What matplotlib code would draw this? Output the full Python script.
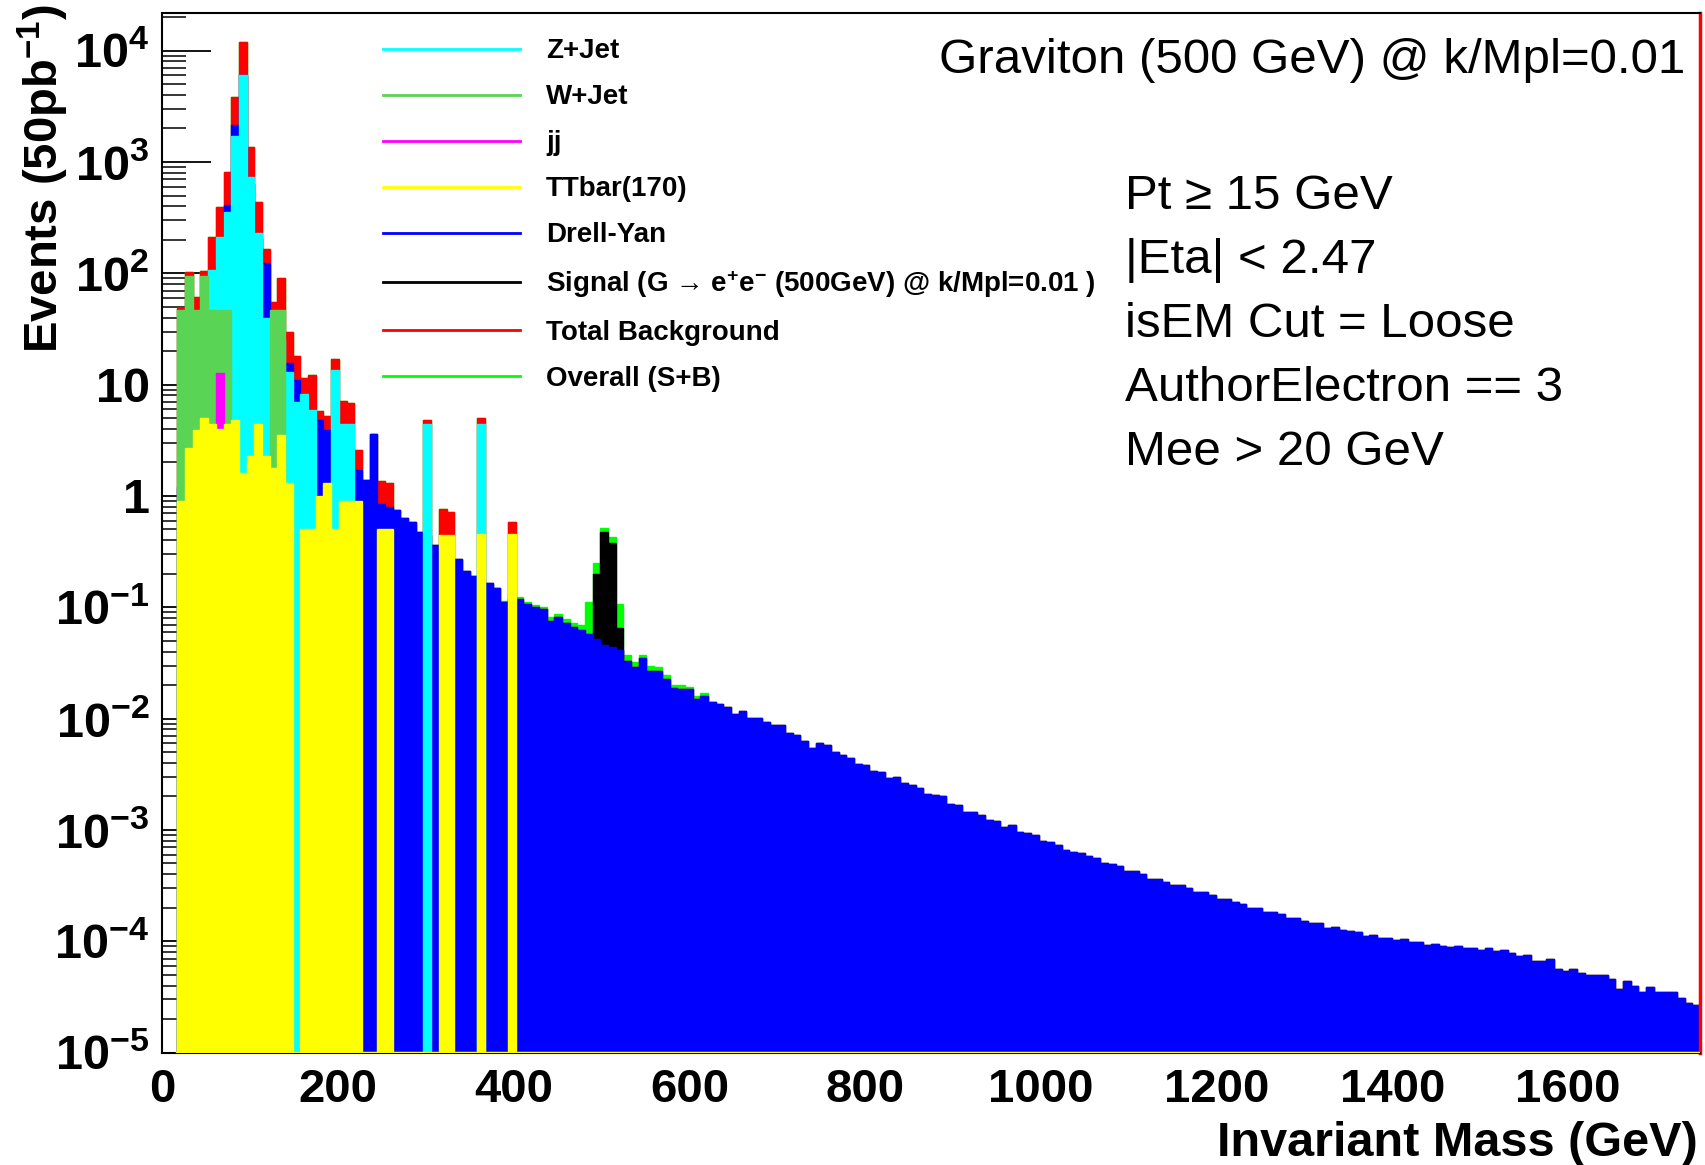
import numpy as np
import matplotlib
matplotlib.use("Agg")
import matplotlib.pyplot as plt
from matplotlib.ticker import FixedLocator, LogLocator, NullFormatter
from matplotlib.lines import Line2D

plt.rcParams['font.family'] = ['Liberation Sans', 'DejaVu Sans']
plt.rcParams['mathtext.fontset'] = 'custom'
plt.rcParams['mathtext.rm'] = 'Liberation Sans'
plt.rcParams['mathtext.bf'] = 'Liberation Sans:bold'
plt.rcParams['mathtext.it'] = 'Liberation Sans:italic'

# ---------------- data ----------------
mass_min, mass_max, n_bins = 0.0, 1750.0, 200      # 8.75 GeV bins
low_first_bin = 2                                    # 17.5 GeV

# low-mass backgrounds, bins 2..47 (17.5 - 420 GeV)
z_jet = [0, 0, 0, 0, 107, 213, 357, 1700, 6000, 740,
         228, 40, 5, 25, 13, 7, 8.3, 5.9, 0, 0,
         13.5, 4.4, 4.4, 0, 0, 0, 0, 0, 0, 0,
         0, 0, 4.4, 0, 0, 0, 0, 0, 0, 4.4,
         0, 0, 0, 0, 0, 0]
w_jet = [47, 94, 47, 94, 47, 47, 47, 0, 0, 0,
         0, 0, 47, 47, 0, 0, 0, 0, 0, 0,
         0, 0, 0, 0, 0, 0, 0, 0, 0, 0,
         0, 0, 0, 0, 0, 0, 0, 0, 0, 0,
         0, 0, 0, 0, 0, 0]
dijet = [0, 0, 0, 0, 0, 12.6, 0, 0, 0, 0,
         0, 0, 0, 0, 0, 0, 0, 0, 0, 0,
         0, 0, 0, 0, 0, 0, 0, 0, 0, 0,
         0, 0, 0, 0, 0, 0, 0, 0, 0, 0,
         0, 0, 0, 0, 0, 0]
ttbar = [0.9, 2.7, 3.9, 5.0, 4.4, 4.0, 4.4, 4.8, 1.6, 2.3,
         4.4, 2.3, 1.8, 3.5, 1.3, 0, 0.5, 0.5, 1.0, 1.3,
         0.5, 0.9, 0.9, 0.9, 0, 0, 0.5, 0.5, 0, 0,
         0, 0, 0, 0, 0.45, 0.45, 0, 0, 0, 0.46,
         0, 0, 0, 0.46, 0, 0]

# Drell-Yan, bins 2..199
drell_yan = [
    1.2, 6, 11, 6, 55, 120, 410, 2150, 6000, 630,
    207, 124, 2, 15, 15.5, 11, 2.7, 5.8, 4.8, 3.9,
    3.0, 1.8, 1.5, 1.7, 1.4, 3.6, 0.85, 0.80, 0.75, 0.64,
    0.58, 0.47, 0.45, 0.36, 0.32, 0.27, 0.27, 0.21, 0.19, 0.17,
    0.166, 0.15, 0.111, 0.12, 0.119, 0.107,
    # bins 48..87
    0.100, 0.097, 0.076, 0.081, 0.073, 0.066, 0.062, 0.057, 0.052, 0.046,
    0.044, 0.041, 0.033, 0.029, 0.035, 0.027, 0.027, 0.0227, 0.019, 0.0184,
    0.0184, 0.015, 0.0159, 0.014, 0.0135, 0.0126, 0.011, 0.0117, 0.0102, 0.0102,
    0.0093, 0.0087, 0.0087, 0.0075, 0.0071, 0.0063, 0.0055, 0.0061, 0.0058, 0.0050,
    # bins 88..139
    4.68e-3, 4.47e-3, 3.89e-3, 3.80e-3, 3.39e-3, 3.31e-3, 2.95e-3, 3.02e-3, 2.63e-3, 2.51e-3,
    2.40e-3, 2.09e-3, 2.04e-3, 2.00e-3, 1.70e-3, 1.66e-3, 1.45e-3, 1.45e-3, 1.35e-3, 1.23e-3,
    1.20e-3, 1.07e-3, 1.10e-3, 9.5e-4, 9.3e-4, 9.1e-4, 7.9e-4, 7.8e-4, 7.4e-4, 6.6e-4,
    6.3e-4, 6.2e-4, 5.8e-4, 5.6e-4, 5.0e-4, 4.9e-4, 4.7e-4, 4.3e-4, 4.3e-4, 4.0e-4,
    3.6e-4, 3.6e-4, 3.4e-4, 3.2e-4, 3.2e-4, 3.0e-4, 2.75e-4, 2.75e-4, 2.63e-4, 2.40e-4,
    2.40e-4, 2.24e-4,
    # bins 140..173
    2.14e-4, 2.00e-4, 2.00e-4, 1.82e-4, 1.82e-4, 1.74e-4, 1.62e-4, 1.62e-4, 1.51e-4, 1.45e-4,
    1.45e-4, 1.32e-4, 1.35e-4, 1.26e-4, 1.23e-4, 1.20e-4, 1.12e-4, 1.15e-4, 1.07e-4, 1.07e-4,
    1.02e-4, 1.05e-4, 9.8e-5, 9.8e-5, 9.3e-5, 9.5e-5, 9.1e-5, 8.9e-5, 9.1e-5, 8.7e-5,
    8.7e-5, 8.3e-5, 8.7e-5, 8.1e-5,
    # bins 174..199
    8.3e-5, 7.9e-5, 7.4e-5, 7.6e-5, 6.6e-5, 6.6e-5, 6.9e-5, 5.6e-5, 5.4e-5, 5.6e-5,
    5.2e-5, 5.0e-5, 5.0e-5, 5.0e-5, 4.6e-5, 3.7e-5, 4.4e-5, 4.0e-5, 3.5e-5, 3.9e-5,
    3.5e-5, 3.5e-5, 3.5e-5, 3.1e-5, 2.8e-5, 2.7e-5,
]

# Graviton signal, bins 44..70
signal_first_bin = 44
signal = [0.004, 0.0, 0.005, 0.004, 0.005, 0.004, 0.005, 0.006, 0.006, 0.007,
          0.008, 0.055, 0.20, 0.47, 0.38, 0.065, 0.004, 0.003, 0.002, 0.003,
          0.002, 0.002, 0.001, 0.0015, 0.001, 0.001, 0.001]

legend_labels = ["Z+Jet", "W+Jet", "jj", "TTbar(170)", "Drell-Yan",
                 "Signal (G \u2192 e$^{\\mathbf{+}}$e$^{\\mathbf{-}}$ (500GeV) @ k/Mpl=0.01 )",
                 "Total Background", "Overall (S+B)"]
cut_lines = ["Pt \u2265 15 GeV", "|Eta| < 2.47", "isEM Cut = Loose",
             "AuthorElectron == 3", "Mee > 20 GeV"]
title_text = "Graviton (500 GeV) @ k/Mpl=0.01"
x_ticks = [0, 200, 400, 600, 800, 1000, 1200, 1400, 1600]
y_exponents = [-5, -4, -3, -2, -1, 0, 1, 2, 3, 4]

# ---------------- build histograms ----------------
edges = np.linspace(mass_min, mass_max, n_bins + 1)


def place(vals, start):
    out = np.zeros(n_bins)
    out[start:start + len(vals)] = vals
    return out


Z = place(z_jet, low_first_bin)
W = place(w_jet, low_first_bin)
JJ = place(dijet, low_first_bin)
TT = place(ttbar, low_first_bin)
DY = place(drell_yan, low_first_bin)
SIG = place(signal, signal_first_bin)
TOTAL = Z + W + JJ + TT + DY
OVERALL = TOTAL + SIG

c_cyan = "#00ffff"
c_wjet = "#59d454"
c_mag = "#ff00ff"
c_yel = "#ffff00"
c_blue = "#0000ff"
c_black = "#000000"
c_red = "#ff0000"
c_lime = "#00ff00"

W_PX, H_PX, DPI = 1705, 1165, 100
fig = plt.figure(figsize=(W_PX / DPI, H_PX / DPI), dpi=DPI)
ax_l, ax_r, ax_b, ax_t = 162, 1700, 1052.6, 13
ax = fig.add_axes([ax_l / W_PX, 1 - ax_b / H_PX, (ax_r - ax_l) / W_PX, (ax_b - ax_t) / H_PX])
ax.set_yscale('log')
ax.set_xlim(mass_min, mass_max)
ax.set_ylim(1e-5, 2.18e4)

draw_order = [(OVERALL, c_lime), (TOTAL, c_red), (SIG, c_black), (DY, c_blue),
              (Z, c_cyan), (W, c_wjet), (JJ, c_mag), (TT, c_yel)]
for vals, col in draw_order:
    ax.stairs(vals, edges, fill=True, facecolor=col, edgecolor=col, linewidth=1.0)

# zero-level outline of the ttbar histogram along the bottom
ax.axhline(1e-5, xmin=edges[low_first_bin] / mass_max, xmax=1.0, color=c_yel, lw=2.5, zorder=3)

# axes styling (ROOT look)
ax.set_axisbelow(True)
for s in ['left', 'bottom', 'top']:
    ax.spines[s].set_linewidth(1.5)
    ax.spines[s].set_color('black')
ax.spines['right'].set_linewidth(2.5)
ax.spines['right'].set_color(c_red)

ax.yaxis.set_major_locator(FixedLocator([10.0 ** e for e in y_exponents]))
ylabels = []
for e in y_exponents:
    if e == 0:
        ylabels.append(r"$\mathbf{1}$")
    elif e == 1:
        ylabels.append(r"$\mathbf{10}$")
    else:
        ylabels.append(r"$\mathbf{10^{%d}}$" % e)
ax.set_yticklabels(ylabels)
ax.yaxis.set_minor_locator(LogLocator(base=10, subs=np.arange(2, 10), numticks=100))
ax.yaxis.set_minor_formatter(NullFormatter())
ax.tick_params(axis='y', which='major', direction='in', length=35, width=1.3,
               labelsize=35, pad=9, right=False)
ax.tick_params(axis='y', which='minor', direction='in', length=17, width=1.1, right=False)

ax.set_xticks(x_ticks)
ax.set_xticklabels([str(v) for v in x_ticks], fontweight='bold')
ax.tick_params(axis='x', which='major', direction='in', length=20, width=1.3,
               labelsize=34, pad=11, top=False)

# axis titles
fig.text(1698 / W_PX, 1 - 1143 / H_PX, "Invariant Mass (GeV)", fontsize=35,
         fontweight='bold', ha='right', va='center')
fig.text(43 / W_PX, 1 - 4 / H_PX, r"Events (50pb$^{\mathbf{-1}}$)", fontsize=34,
         fontweight='bold', ha='center', va='top', rotation=90)

# title and cut list
fig.text(1685 / W_PX, 1 - 73 / H_PX, title_text, fontsize=35.5, ha='right', va='baseline')
for k, line in enumerate(cut_lines):
    fig.text(1125 / W_PX, 1 - (209 + 64 * k) / H_PX, line, fontsize=35.5,
             ha='left', va='baseline')

# legend
handles = [Line2D([], [], color=c, lw=2) for c in
           [c_cyan, c_wjet, c_mag, c_yel, c_blue, c_black, c_red, c_lime]]
ax.legend(handles, legend_labels, loc='upper left',
          bbox_to_anchor=(383 / W_PX, 1 - 38.5 / H_PX), bbox_transform=fig.transFigure,
          frameon=False, prop={'weight': 'bold', 'size': 20},
          handlelength=4.93, handletextpad=0.94, labelspacing=0.72,
          borderpad=0, borderaxespad=0)

fig.savefig("out.png", dpi=DPI, facecolor='white')
